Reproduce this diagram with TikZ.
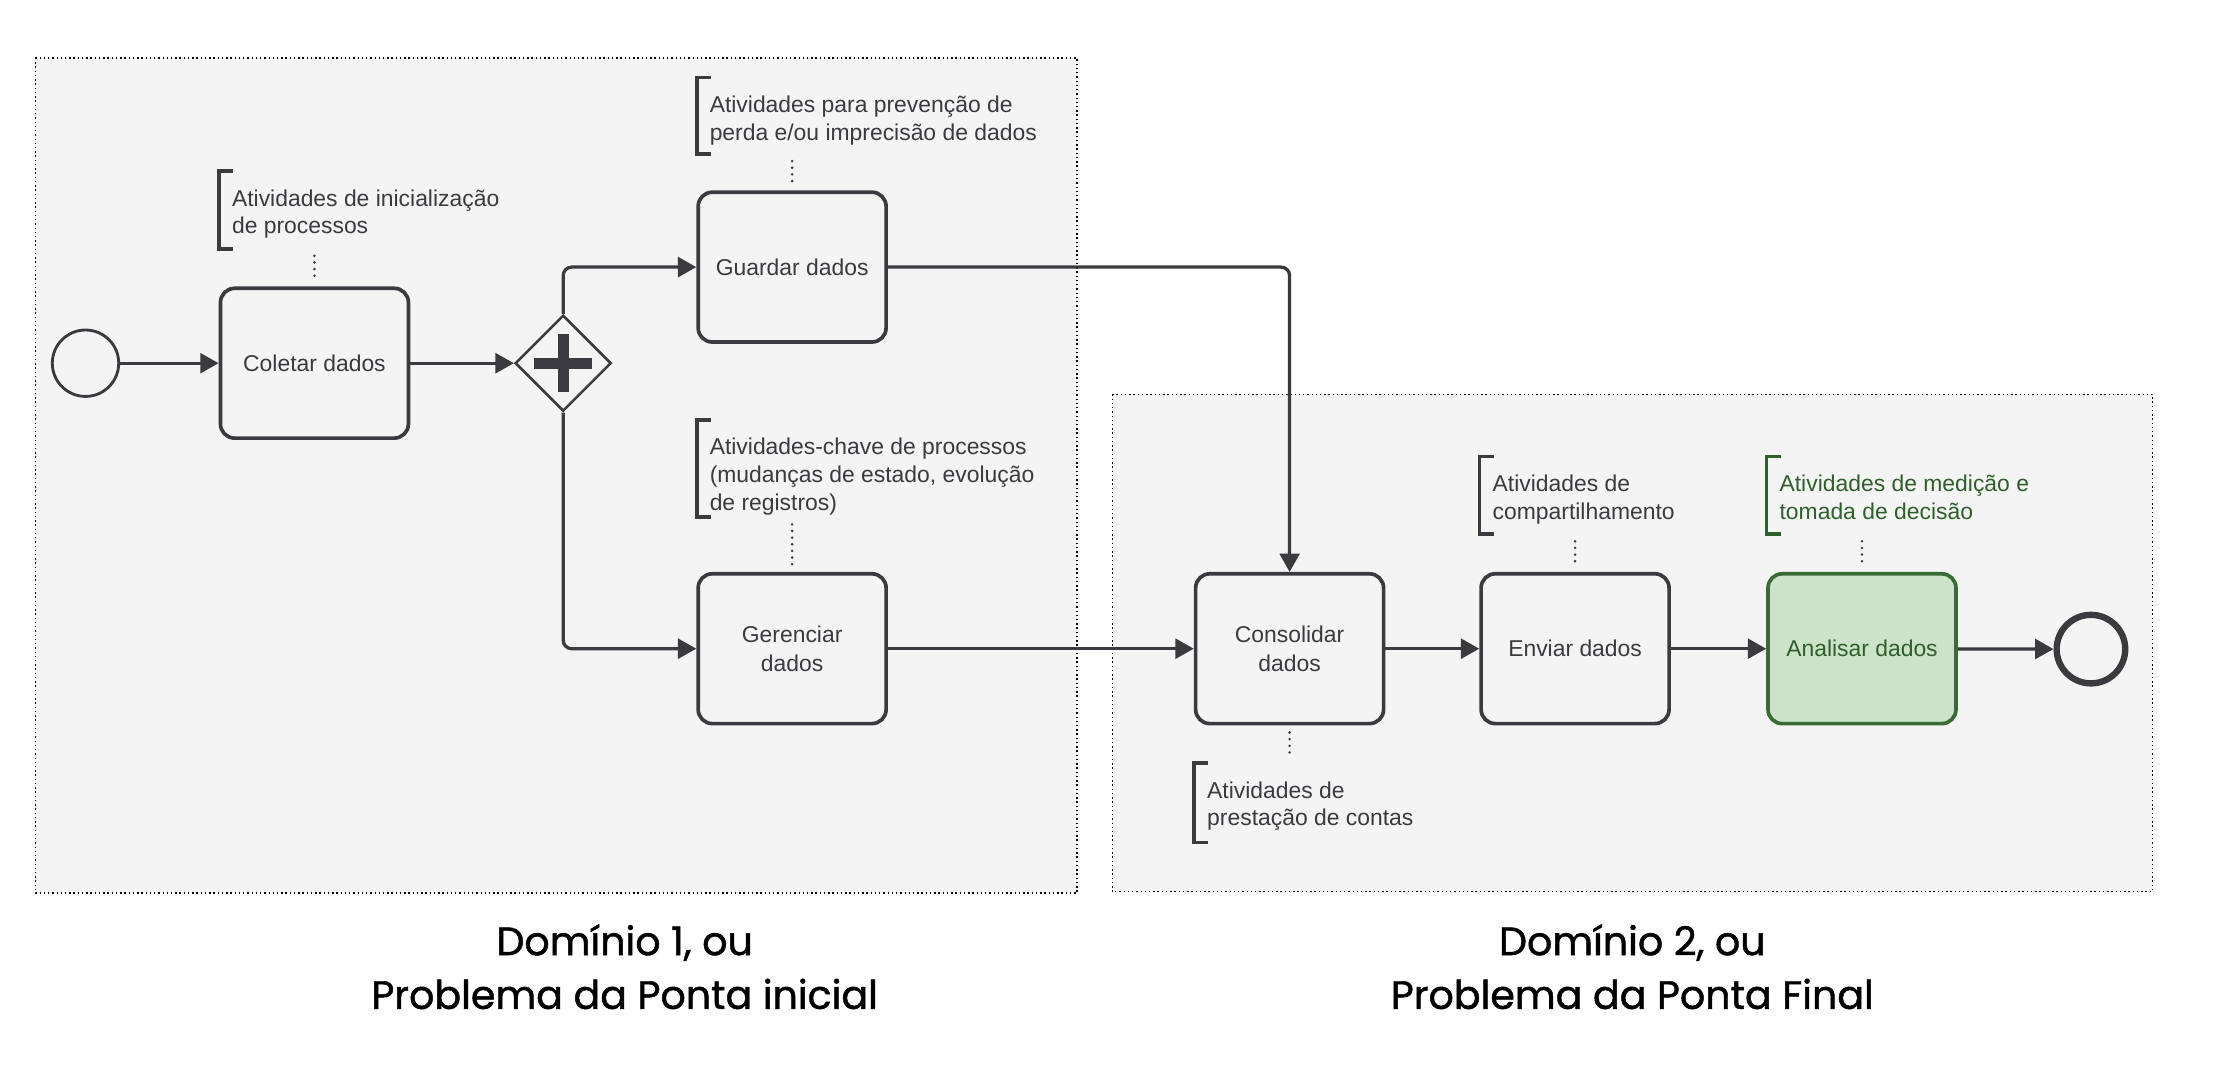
\documentclass[tikz,border=0pt]{standalone}
\usepackage{fontspec}
\setmainfont{Liberation Sans}
\newfontfamily\titlefont[FakeBold=1.2]{Poppins}
\usetikzlibrary{arrows.meta,shapes.geometric,calc}
\definecolor{ink}{HTML}{3A3A3F}
\definecolor{panel}{HTML}{F4F4F4}
\definecolor{gfill}{HTML}{CCE3C9}
\definecolor{gdraw}{HTML}{3B6B35}
\definecolor{gtext}{HTML}{2F5F2A}
\tikzset{
  panelbox/.style={fill=panel, draw=black, line width=1pt, dash pattern=on 1pt off 2pt},
  task/.style={draw=ink, line width=2.6pt, rounded corners=10pt, fill=panel, text=ink,
    minimum width=133pt, minimum height=106pt, inner sep=0pt, align=center,
    font=\fontsize{16.2}{20}\selectfont},
  greentask/.style={task, draw=gdraw, fill=gfill, text=gtext},
  flow/.style={draw=ink, line width=2.3pt, rounded corners=6pt,
    -{Triangle[length=13pt,width=14pt]}},
  startev/.style={circle, draw=ink, line width=2pt, minimum size=47pt, inner sep=0pt, fill=panel},
  endev/.style={circle, draw=ink, line width=4.5pt, minimum size=48.5pt, inner sep=0pt, fill=panel},
  gatew/.style={diamond, draw=ink, line width=1.8pt, minimum width=68pt, minimum height=68pt,
    aspect=1, inner sep=0pt, fill=panel},
  annot/.style={anchor=north west, inner sep=0pt, align=left,
    font=\fontsize{16.2}{19.5}\selectfont},
  bracket/.style={line width=2.5pt},
  assoc/.style={draw=ink, line width=2pt, line cap=round, dash pattern=on 0pt off 4.7pt,
    shorten <=5pt, shorten >=4pt},
  titletext/.style={align=center, text=black, font=\titlefont\fontsize{28}{38}\selectfont}
}
% #1 colour, #2 name, #3 x of bracket, #4 top of bracket, #5 bracket height, #6 text
\newcommand{\annotation}[6][ink]{%
  \node[annot, text=#1] (#2) at (#3+9, #4+13) {#6};
  \draw[bracket, draw=#1] (#3+10, #4) -- (#3, #4) -- (#3, #4+#5) -- (#3+10, #4+#5);
  \coordinate (#2-head) at (#3, #4);
  \coordinate (#2-foot) at (#3, #4+#5);}
\begin{document}
\begin{tikzpicture}[x=1pt,y=-1pt]
\useasboundingbox[fill=white] (0,0) rectangle (1568,771);
% panels
\path[panelbox] (25,41) rectangle (762,632);
\path[panelbox] (787,279) rectangle (1523,631);
% nodes
\node[startev] (start) at (60.5,257) {};
\node[task] (coletar) at (222.5,257) {Coletar dados};
\node[gatew] (gw) at (398.5,257) {};
\draw[ink, line width=7.8pt] ([xshift=-20.5pt]gw.center) -- ([xshift=20.5pt]gw.center);
\draw[ink, line width=7.8pt] ([yshift=-20.5pt]gw.center) -- ([yshift=20.5pt]gw.center);
\node[task] (guardar) at (560.5,189) {Guardar dados};
\node[task] (gerenciar) at (560.5,459) {Gerenciar\\dados};
\node[task] (consolidar) at (912.5,459) {Consolidar\\dados};
\node[task] (enviar) at (1114.5,459) {Enviar dados};
\node[greentask] (analisar) at (1317.5,459) {Analisar dados};
\node[endev] (fim) at (1479.5,459.3) {};
% flows
\draw[flow] (start) -- (coletar);
\draw[flow] (coletar) -- (gw);
\draw[flow] (gw.north) |- (guardar.west);
\draw[flow] (gw.south) |- (gerenciar.west);
\draw[flow] (guardar.east) -| (consolidar.north);
\draw[flow] (gerenciar) -- (consolidar);
\draw[flow] (consolidar) -- (enviar);
\draw[flow] (enviar) -- (analisar);
\draw[flow] (analisar) -- (fim);
% annotations
\annotation{a1}{155}{121}{55}{Atividades de inicialização\\de processos}
\draw[assoc] (a1-foot -| coletar.north) -- (coletar.north);
\annotation{a2}{493}{55}{54}{Atividades para prevenção de\\perda e/ou imprecisão de dados}
\draw[assoc] (a2-foot -| guardar.north) -- (guardar.north);
\annotation{a3}{493}{297}{69}{Atividades-chave de processos\\(mudanças de estado, evolução\\de registros)}
\draw[assoc] (a3-foot -| gerenciar.north) -- (gerenciar.north);
\annotation{a4}{1047}{323}{55}{Atividades de\\compartilhamento}
\draw[assoc] (a4-foot -| enviar.north) -- (enviar.north);
\annotation[gtext]{a5}{1250}{323}{55}{Atividades de medição e\\tomada de decisão}
\draw[assoc] (a5-foot -| analisar.north) -- (analisar.north);
\annotation{a6}{845}{540}{56}{Atividades de\\prestação de contas}
\draw[assoc] (consolidar.south) -- (consolidar.south |- a6-head);
% titles
\node[titletext] (t1) at (442,684) {Domínio 1, ou\\Problema da Ponta inicial};
\node[titletext] (t2) at (1155,684) {Domínio 2, ou\\Problema da Ponta Final};
\end{tikzpicture}
\end{document}
